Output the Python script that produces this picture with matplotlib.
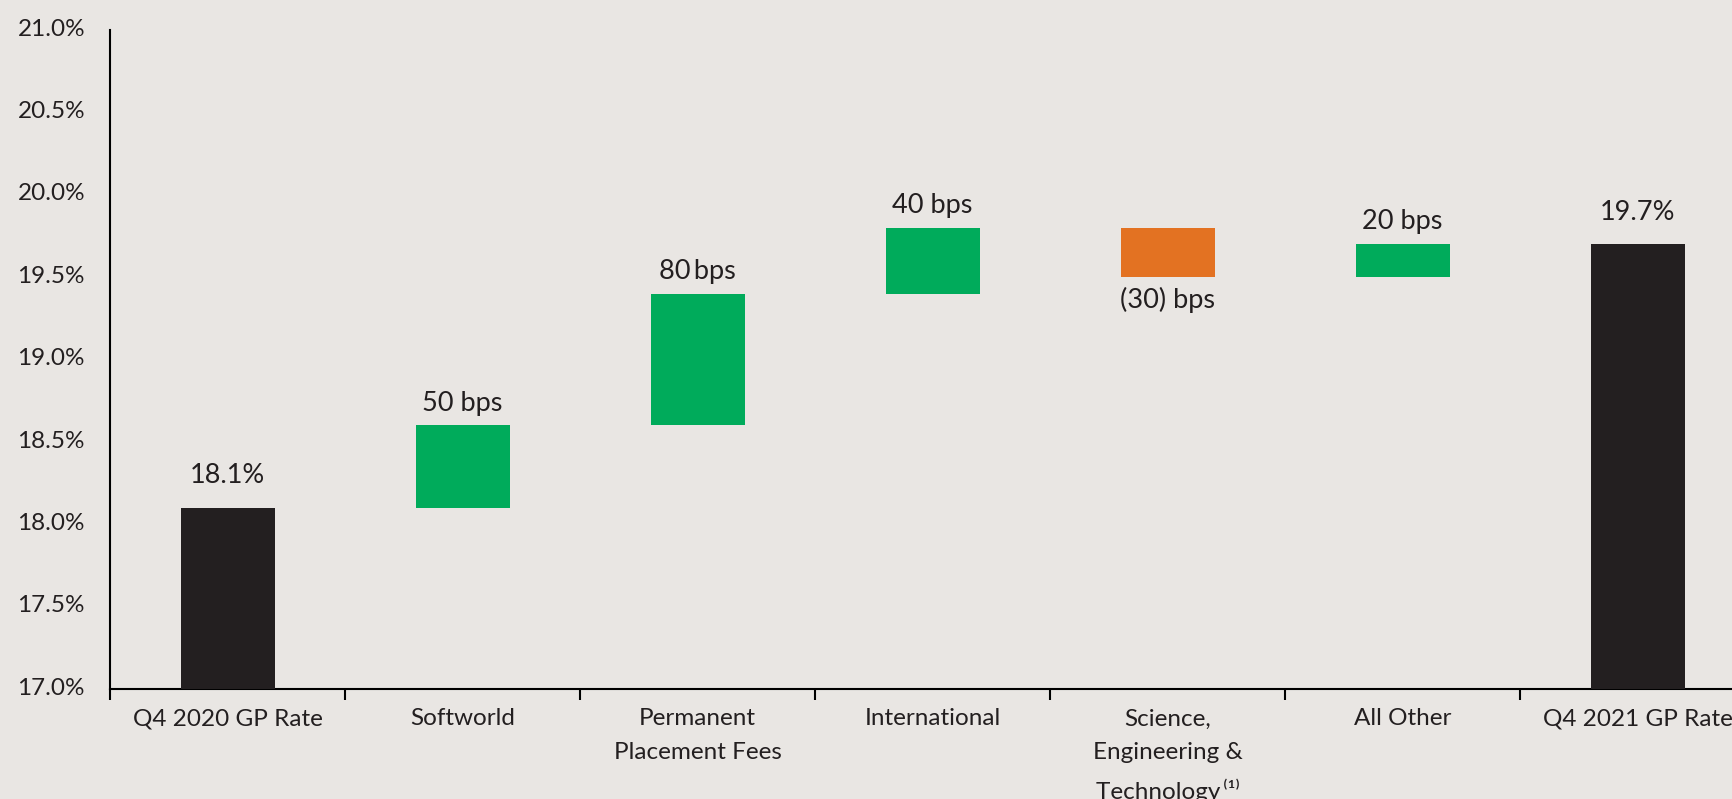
import numpy as np
import matplotlib
matplotlib.use("Agg")
import matplotlib.pyplot as plt
import matplotlib.transforms as mtransforms

plt.rcParams['font.family'] = ['Lato', 'DejaVu Sans']

# данные
categories = ["Q4 2020 GP Rate", "Softworld", "Permanent\nPlacement Fees", "International",
              "Science,\nEngineering &\nTechnology\u2009\u207d\u00b9\u207e", "All Other", "Q4 2021 GP Rate"]
start_rate = 18.1
changes_bps = [50, 80, 40, -30, 20]
end_rate = 19.7
value_labels = ["18.1%", "50 bps", "80\u2009bps", "40 bps", "(30) bps", "20 bps", "19.7%"]

BG = '#E9E6E3'
DARK = '#231F20'
GREEN = '#00AB5B'
ORANGE = '#E37222'

# считаем низ и высоту каждого столбика
bottoms, heights, colors = [17.0], [start_rate - 17.0], [DARK]
level = start_rate
for c in changes_bps:
    d = c / 100
    bottoms.append(min(level, level + d))
    heights.append(abs(d))
    colors.append(GREEN if d > 0 else ORANGE)
    level += d
bottoms.append(17.0)
heights.append(end_rate - 17.0)
colors.append(DARK)

fig = plt.figure(figsize=(17.32, 7.99), dpi=100, facecolor=BG)
ax = fig.add_axes([110 / 1732, 110 / 799, 1645 / 1732, 659 / 799])
ax.set_facecolor(BG)

x = np.arange(len(categories))
ax.bar(x, heights, bottom=bottoms, width=0.4, color=colors, zorder=3)

# подписи значений
last = len(categories) - 1
for i, lab in enumerate(value_labels):
    if i in (0, last):
        ax.annotate(lab, (x[i], bottoms[i] + heights[i]), xytext=(0, 14), textcoords='offset points',
                    ha='center', va='bottom', fontsize=19.5, color=DARK)
    elif changes_bps[i - 1] > 0:
        ax.annotate(lab, (x[i], bottoms[i] + heights[i]), xytext=(0, 7), textcoords='offset points',
                    ha='center', va='bottom', fontsize=19.5, color=DARK)
    else:
        ax.annotate(lab, (x[i], bottoms[i]), xytext=(0, -7), textcoords='offset points',
                    ha='center', va='top', fontsize=19.5, color=DARK)

ax.set_xlim(-0.5, len(categories) - 0.5)
ax.set_ylim(17.0, 21.0)
yt = np.arange(17.0, 21.01, 0.5)
ax.set_yticks(yt)
ax.set_yticklabels([f"{v:.1f}%" for v in yt])
ax.tick_params(axis='y', length=0, pad=18, labelsize=17.5, labelcolor=DARK)
shift = mtransforms.ScaledTranslation(0, 2 / 72, fig.dpi_scale_trans)
for t in ax.get_yticklabels():
    t.set_transform(t.get_transform() + shift)

ax.set_xticks(np.arange(-0.5, len(categories), 1.0))
ax.set_xticklabels([])
ax.tick_params(axis='x', which='major', length=8, width=1.5, direction='out', color='black')
ax.set_xticks(x, minor=True)
ax.set_xticklabels(categories, minor=True, fontsize=17.5, color=DARK, linespacing=1.75, va='top')
ax.tick_params(axis='x', which='minor', length=0, pad=14)

for s in ['top', 'right']:
    ax.spines[s].set_visible(False)
for s in ['left', 'bottom']:
    ax.spines[s].set_linewidth(1.5)

fig.savefig('out.png', dpi=100, facecolor=BG)
